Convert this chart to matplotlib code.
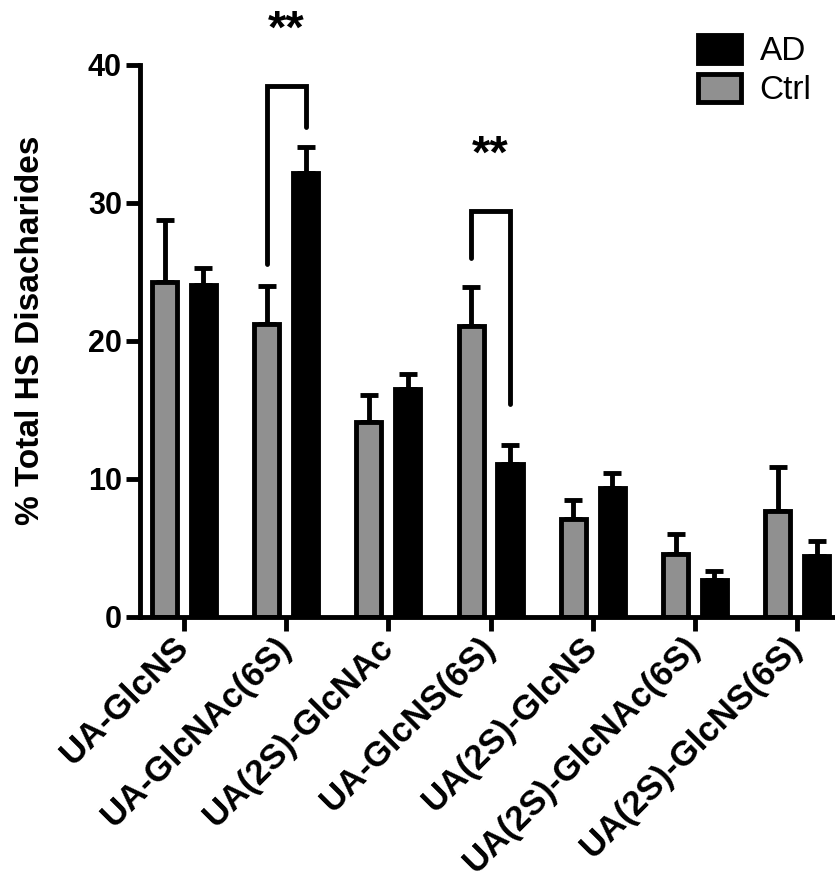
import matplotlib
matplotlib.use("Agg")
import matplotlib.pyplot as plt
from matplotlib.patches import Patch
import numpy as np

plt.rcParams["font.family"] = ["Liberation Sans", "DejaVu Sans"]

# disaccharide composition, % of total HS (mean and upper SEM)
categories = ["UA-GlcNS", "UA-GlcNAc(6S)", "UA(2S)-GlcNAc", "UA-GlcNS(6S)",
              "UA(2S)-GlcNS", "UA(2S)-GlcNAc(6S)", "UA(2S)-GlcNS(6S)"]
ctrl_mean = [24.3, 21.2, 14.1, 21.1, 7.1, 4.55, 7.65]
ctrl_err = [4.45, 2.8, 2.0, 2.8, 1.4, 1.5, 3.25]
ad_mean = [24.05, 32.15, 16.5, 11.1, 9.35, 2.7, 4.45]
ad_err = [1.25, 1.9, 1.1, 1.35, 1.1, 0.65, 1.05]

# significance brackets: (group index, top, left end, right end, star height)
brackets = [
    (1, 38.5, 25.6, 35.5, 42.5),
    (3, 29.4, 26.0, 15.45, 33.45),
]
yticks = [0, 10, 20, 30, 40]

GRAY = "#909090"
LW = 3.5

fig = plt.figure(figsize=(8.35, 8.81), dpi=100)
ax = fig.add_axes([140 / 835, 1 - 617 / 881, 1 - 140 / 835, (617 - 65) / 881])

x = np.arange(len(categories))
off = 0.19
w = 0.245

err_kw = dict(ecolor="black", elinewidth=LW, capsize=6.5, capthick=LW, zorder=1)
ax.bar(x - off, ctrl_mean, w, color=GRAY, edgecolor="black", linewidth=LW,
       zorder=2, yerr=[np.zeros(len(x)), ctrl_err], error_kw=err_kw)
ax.bar(x + off, ad_mean, w, color="black", edgecolor="black", linewidth=LW,
       zorder=2, yerr=[np.zeros(len(x)), ad_err], error_kw=err_kw)

for g, top, yl, yr, ys in brackets:
    xl, xr = g - off, g + off
    ax.plot([xl, xl, xr, xr], [yl, top, top, yr], color="black", lw=LW,
            solid_capstyle="round", solid_joinstyle="miter", clip_on=False, zorder=3)
    ax.text(g, ys, "**", ha="center", va="center", fontsize=34, fontweight="bold",
            clip_on=False)

ax.set_xlim(-0.43, 6.37)
ax.set_ylim(0, 40)
ax.set_yticks(yticks)
ax.set_xticks(x)
ax.set_xticklabels(categories, rotation=45, ha="right", va="center",
                   rotation_mode="anchor", fontsize=25, fontweight="bold")
ax.set_yticklabels([str(t) for t in yticks], fontsize=22, fontweight="bold")
ax.tick_params(axis="both", direction="out", length=10, width=LW)
ax.tick_params(axis="x", pad=8)
ax.tick_params(axis="y", pad=3)

for s in ["top", "right"]:
    ax.spines[s].set_visible(False)
for s in ["left", "bottom"]:
    ax.spines[s].set_linewidth(LW)

ax.set_ylabel("% Total HS Disacharides", fontsize=24, fontweight="bold")
ax.yaxis.set_label_coords(-0.135, 0.52)

handles = [Patch(facecolor="black", edgecolor="black", linewidth=LW, label="AD"),
           Patch(facecolor=GRAY, edgecolor="black", linewidth=LW, label="Ctrl")]
fig.legend(handles=handles, loc="upper left", bbox_to_anchor=(698 / 835, 1 - 35 / 881),
           frameon=False, fontsize=24, handlelength=1.3, handleheight=0.9,
           labelspacing=0.2, handletextpad=0.55, borderpad=0, borderaxespad=0)

fig.savefig("out.png", dpi=100)
